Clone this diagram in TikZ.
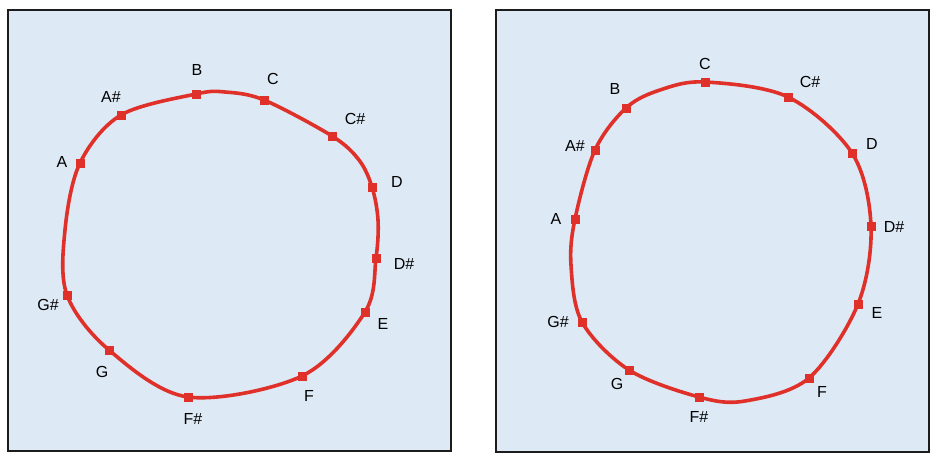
\documentclass[tikz,border=0pt]{standalone}
\usepackage{fontspec}
\setmainfont{Liberation Sans}
\usetikzlibrary{positioning}
\definecolor{panelfill}{HTML}{DDE9F4}
\definecolor{panelrule}{HTML}{1C1C1C}
\definecolor{ringred}{HTML}{E0302A}
\tikzset{
  panel/.style={draw=panelrule, fill=panelfill, line width=2.2pt},
  ring/.style={draw=ringred, line width=3.6pt},
  tone/.style={rectangle, fill=ringred, minimum size=9pt, inner sep=0pt},
  note/.style={font=\fontsize{16}{16}\selectfont, inner sep=0pt},
}
\begin{document}
\begin{tikzpicture}[x=1pt, y=-1pt]
  \useasboundingbox (0,0) rectangle (930,453);
  \draw[panel] (8,10) rectangle (451,451);
  \draw[panel] (496,10) rectangle (929,452);
  % left panel: chromatic loop
  \node[tone] (lA)  at (80,163) {};
  \node[tone] (lAs) at (121,115) {};
  \node[tone] (lB)  at (196,94) {};
  \node[tone] (lC)  at (264,100) {};
  \node[tone] (lCs) at (332,136) {};
  \node[tone] (lD)  at (372,187) {};
  \node[tone] (lDs) at (376,258) {};
  \node[tone] (lE)  at (365,312) {};
  \node[tone] (lF)  at (302,376) {};
  \node[tone] (lFs) at (188,397) {};
  \node[tone] (lG)  at (109,350) {};
  \node[tone] (lGs) at (67,295) {};
  \coordinate (lt) at (225,92);
  \coordinate (lr) at (359,160);
  \coordinate (lq) at (378,220);
  \coordinate (lw) at (65,230);
  \draw[ring] plot[smooth cycle, tension=0.55] coordinates {
    (lA.center) (lAs.center) (lB.center) (lt) (lC.center) (lCs.center) (lr)
    (lD.center) (lq) (lDs.center) (lE.center) (lF.center)
    (lFs.center) (lG.center) (lGs.center) (lw)};
  \node[note] (lAl)  at (62,162) {A};
  \node[note] (lAsl) at (111,97) {A\#};
  \node[note] (lBl)  at (197,70) {B};
  \node[note] (lCl)  at (273,79) {C};
  \node[note] (lCsl) at (355,119) {C\#};
  \node[note] (lDl)  at (397,182) {D};
  \node[note] (lDsl) at (404,264) {D\#};
  \node[note] (lEl)  at (383,324) {E};
  \node[note] (lFl)  at (309,396) {F};
  \node[note] (lFsl) at (193,419) {F\#};
  \node[note] (lGl)  at (102,372) {G};
  \node[note] (lGsl) at (48,305) {G\#};
  % right panel: chromatic loop
  \node[tone] (rA)  at (575,219) {};
  \node[tone] (rAs) at (595,150) {};
  \node[tone] (rB)  at (626,108) {};
  \node[tone] (rC)  at (705,82) {};
  \node[tone] (rCs) at (788,97) {};
  \node[tone] (rD)  at (852,153) {};
  \node[tone] (rDs) at (871,226) {};
  \node[tone] (rE)  at (858,304) {};
  \node[tone] (rF)  at (809,378) {};
  \node[tone] (rFs) at (699,397) {};
  \node[tone] (rG)  at (629,370) {};
  \node[tone] (rGs) at (582,322) {};
  \coordinate (rt) at (660,90);
  \coordinate (rb) at (745,401);
  \coordinate (rw) at (571,265);
  \draw[ring] plot[smooth cycle, tension=0.55] coordinates {
    (rA.center) (rAs.center) (rB.center) (rt) (rC.center) (rCs.center)
    (rD.center) (rDs.center) (rE.center) (rF.center) (rb)
    (rFs.center) (rG.center) (rGs.center) (rw)};
  \node[note] (rAl)  at (556,219) {A};
  \node[note] (rAsl) at (575,146) {A\#};
  \node[note] (rBl)  at (615,89) {B};
  \node[note] (rCl)  at (705,64) {C};
  \node[note] (rCsl) at (810,82) {C\#};
  \node[note] (rDl)  at (872,144) {D};
  \node[note] (rDsl) at (894,227) {D\#};
  \node[note] (rEl)  at (877,313) {E};
  \node[note] (rFl)  at (822,392) {F};
  \node[note] (rFsl) at (699,417) {F\#};
  \node[note] (rGl)  at (617,384) {G};
  \node[note] (rGsl) at (558,322) {G\#};
\end{tikzpicture}
\end{document}
